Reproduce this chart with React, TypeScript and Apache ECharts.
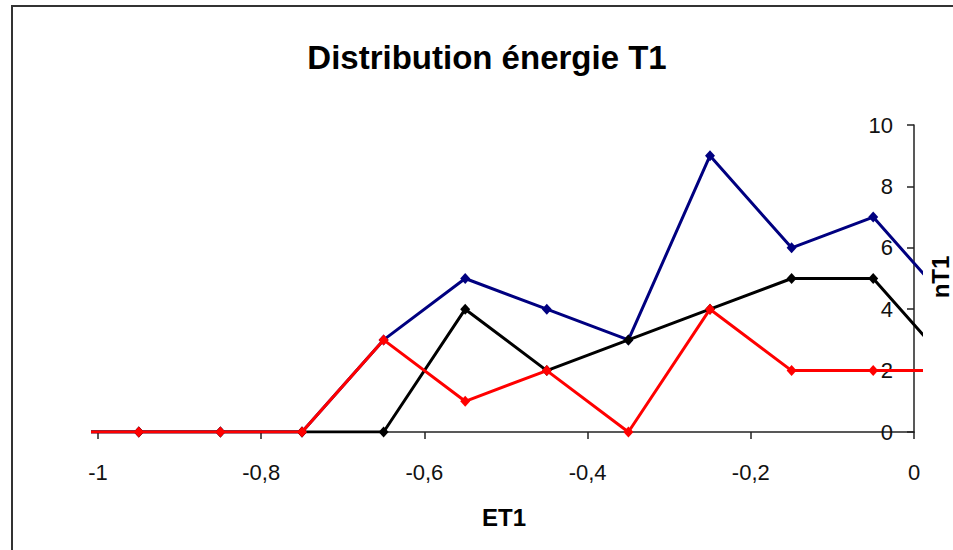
import React, { useEffect, useRef } from "react";
import * as echarts from "echarts";

const title = "Distribution énergie T1";
const xName = "ET1";
const yName = "nT1";

const xValues = [-1.05, -0.95, -0.85, -0.75, -0.65, -0.55, -0.45, -0.35, -0.25, -0.15, -0.05, 0.05];
const blueValues = [0, 0, 0, 0, 3, 5, 4, 3, 9, 6, 7, 4];
const blackValues = [0, 0, 0, 0, 0, 4, 2, 3, 4, 5, 5, 2];
const redValues = [0, 0, 0, 0, 3, 1, 2, 0, 4, 2, 2, 2];

const xMin = -1;
const xMax = 0;
const xInterval = 0.2;
const yMin = 0;
const yMax = 10;
const yInterval = 2;

const FONT = '"Liberation Sans", Arial, sans-serif';

function pairs(ys: number[]) {
  return xValues.map((x, i) => [x, ys[i]]);
}

export default function App() {
  const ref = useRef<HTMLDivElement>(null);
  useEffect(() => {
    if (!ref.current) return;
    const chart = echarts.init(ref.current, undefined, { renderer: "svg" });
    // visible axis grid: -1 at 98px, 0 at 914px ; series grid slightly wider (clip region)
    const axisLeft = 98;
    const axisWidth = 816;
    const pxPerUnit = axisWidth / (xMax - xMin);
    const serLeft = 93;
    const serWidth = 828;
    const serMin = xMin - (axisLeft - serLeft) / pxPerUnit;
    const serMax = serMin + serWidth / pxPerUnit;
    const top = 125;
    const height = 307;

    const mkSeries = (name: string, color: string, vals: number[], z: number) => ({
      name,
      type: "line",
      xAxisIndex: 1,
      yAxisIndex: 1,
      data: pairs(vals),
      symbol: "diamond",
      symbolSize: [10, 11],
      showAllSymbol: true,
      clip: true,
      z,
      lineStyle: { color, width: 3 },
      itemStyle: { color },
    });

    chart.setOption({
      animation: false,
      backgroundColor: "#ffffff",
      textStyle: { fontFamily: FONT },
      grid: [
        { left: axisLeft, top, width: axisWidth, height },
        { left: serLeft, top, width: serWidth, height },
      ],
      xAxis: [
        {
          type: "value",
          gridIndex: 0,
          min: xMin,
          max: xMax,
          interval: xInterval,
          axisLine: { show: true, onZero: false, lineStyle: { color: "#222", width: 1.5 } },
          axisTick: { show: true, length: 7, lineStyle: { color: "#222", width: 1.5 } },
          splitLine: { show: false },
          axisLabel: {
            margin: 29,
            fontSize: 22,
            color: "#111",
            fontFamily: FONT,
            formatter: (v: number) => String(Math.round(v * 10) / 10).replace(".", ","),
          },
        },
        {
          type: "value",
          gridIndex: 1,
          min: serMin,
          max: serMax,
          show: false,
          splitLine: { show: false },
        },
      ],
      yAxis: [
        {
          type: "value",
          gridIndex: 0,
          position: "right",
          min: yMin,
          max: yMax,
          interval: yInterval,
          axisLine: { show: true, onZero: false, lineStyle: { color: "#222", width: 1.5 } },
          axisTick: { show: true, inside: true, length: 7, lineStyle: { color: "#222", width: 1.5 } },
          splitLine: { show: false },
          axisLabel: { inside: true, margin: 21, fontSize: 22, color: "#111", fontFamily: FONT },
        },
        {
          type: "value",
          gridIndex: 1,
          min: yMin,
          max: yMax,
          show: false,
          splitLine: { show: false },
        },
      ],
      graphic: [
        {
          type: "rect",
          shape: { x: 12, y: 6, width: 1000, height: 600 },
          style: { fill: "none", stroke: "#333", lineWidth: 2 },
          silent: true,
          z: -10,
        },
        {
          type: "text",
          x: 487,
          y: 57,
          style: {
            text: title,
            font: `bold 33px ${FONT}`,
            fill: "#000",
            align: "center",
            verticalAlign: "middle",
          },
        },
        {
          type: "text",
          x: 504,
          y: 517,
          style: {
            text: xName,
            font: `bold 24px ${FONT}`,
            fill: "#000",
            align: "center",
            verticalAlign: "middle",
          },
        },
        {
          type: "text",
          x: 940,
          y: 277,
          rotation: Math.PI / 2,
          style: {
            text: yName,
            font: `bold 24px ${FONT}`,
            fill: "#000",
            align: "center",
            verticalAlign: "middle",
          },
        },
      ],
      series: [
        mkSeries("Série bleue", "#000080", blueValues, 2),
        mkSeries("Série noire", "#000000", blackValues, 3),
        mkSeries("Série rouge", "#ff0000", redValues, 4),
      ],
    });
    return () => chart.dispose();
  }, []);
  return (
    <div
      ref={ref}
      style={{ position: "fixed", left: 0, top: 0, width: 953, height: 550, background: "#fff" }}
    />
  );
}
